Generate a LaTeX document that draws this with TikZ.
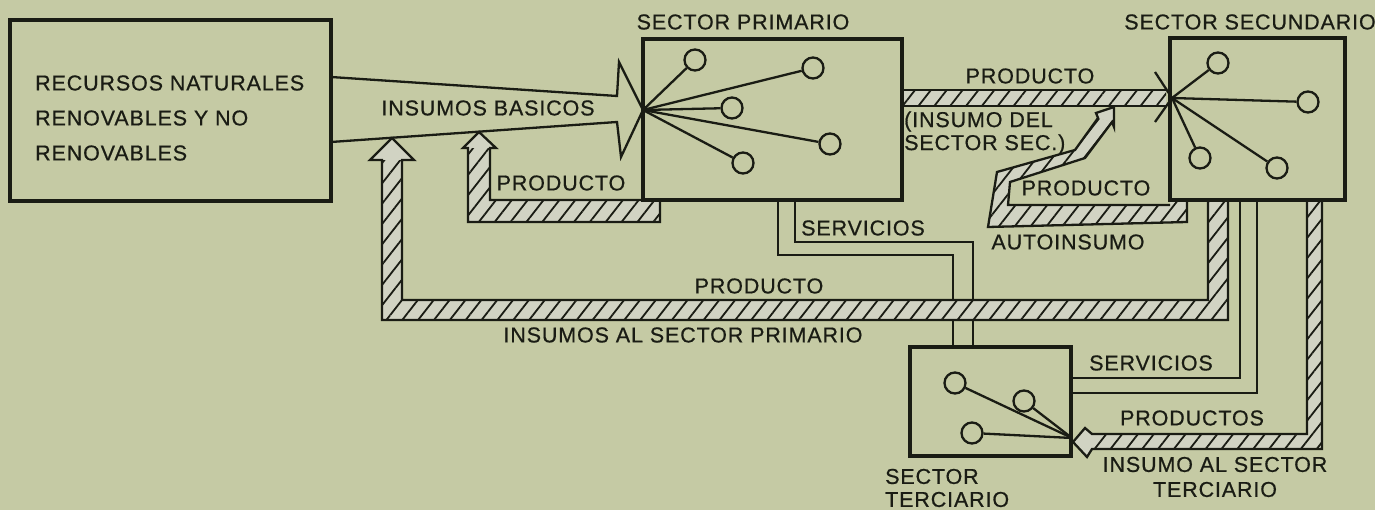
\documentclass[tikz,border=0pt]{standalone}
\usepackage{fontspec}
\setmainfont{Liberation Sans}[LetterSpace=4,FakeBold=0.6]
\usetikzlibrary{patterns.meta}
\definecolor{bgc}{HTML}{C5CAA4}
\definecolor{ink}{HTML}{1A1C14}
\definecolor{bandfill}{HTML}{D1D3C3}
\pgfdeclarelayer{back}
\pgfdeclarelayer{mid}
\pgfsetlayers{back,mid,main}
\tikzset{
  lbl/.style={font=\fontsize{21.5}{24}\selectfont, inner sep=0pt, text=ink},
  sbox/.style={draw=ink, line width=3.4pt, inner sep=0pt},
  ln/.style={draw=ink, line width=2.3pt, line join=miter},
  circ/.style={circle, draw=ink, line width=2.3pt, minimum size=21pt, inner sep=0pt},
  bandarea/.style={fill=bandfill, postaction={pattern={Lines[angle=52,distance=12.5pt,line width=1.8pt]}, pattern color=ink}},
  bandline/.style={draw=ink, line width=2.3pt, line join=miter},
  headfill/.style={fill=bandfill},
}
\begin{document}
\begin{tikzpicture}[x=1pt,y=-1pt]
\useasboundingbox (0,0) rectangle (1375,510);
\begin{pgfonlayer}{back}
  \fill[bgc] (0,0) rectangle (1375,510);
\end{pgfonlayer}

% ---------- boxes ----------
\node[sbox, minimum width=321pt, minimum height=181pt] (rec) at (170.5,110.5) {};
\node[sbox, minimum width=259pt, minimum height=161pt] (sp) at (772.5,119.5) {};
\node[sbox, minimum width=175pt, minimum height=162pt] (ss) at (1257.5,119) {};
\node[sbox, minimum width=161pt, minimum height=109pt] (st) at (990.5,401.5) {};

% ---------- labels ----------
\node[lbl, anchor=west, align=left, font=\fontsize{21.5}{35}\selectfont] (rectxt) at (35,118)
  {RECURSOS NATURALES\\RENOVABLES Y NO\\RENOVABLES};
\node[lbl] (lins) at (488,108) {INSUMOS BASICOS};
\node[lbl] (lsp) at (743,22) {SECTOR PRIMARIO};
\node[lbl] (lss) at (1250,22) {SECTOR SECUNDARIO};
\node[lbl] (lprod1) at (561,183) {PRODUCTO};
\node[lbl] (lserv1) at (863,228) {SERVICIOS};
\node[lbl] (lprod2) at (759,286) {PRODUCTO};
\node[lbl] (linsp) at (683,335) {INSUMOS AL SECTOR PRIMARIO};
\node[lbl] (lprod3) at (1030,76) {PRODUCTO};
\node[lbl, anchor=west, align=left, font=\fontsize{21.5}{23}\selectfont] (linsec) at (904,133) {(INSUMO DEL\\SECTOR SEC.)};
\node[lbl] (lprod4) at (1086,188) {PRODUCTO};
\node[lbl] (lauto) at (1068,242) {AUTOINSUMO};
\node[lbl] (lserv2) at (1151,363) {SERVICIOS};
\node[lbl] (lprods) at (1192,418) {PRODUCTOS};
\node[lbl, align=center, font=\fontsize{21.5}{25}\selectfont] (linst) at (1215,477) {INSUMO AL SECTOR\\TERCIARIO};
\node[lbl, anchor=west, align=left, font=\fontsize{21.5}{23}\selectfont] (lst) at (885,488) {SECTOR\\TERCIARIO};

% ---------- hubs and circles ----------
\coordinate (sphub) at (643,110);
\coordinate (sshub) at (1172,98);
\coordinate (sthub) at (1072,438);

\node[circ] (p1) at (695,60) {};
\node[circ] (p2) at (813,68) {};
\node[circ] (p3) at (732,108) {};
\node[circ] (p4) at (830,144) {};
\node[circ] (p5) at (743,163) {};
\foreach \c in {p1,p2,p3,p4,p5} \draw[ln] (sphub) -- (\c);

\node[circ] (s1) at (1218,63) {};
\node[circ] (s2) at (1308,102) {};
\node[circ] (s3) at (1200,158) {};
\node[circ] (s4) at (1277,168) {};
\foreach \c in {s1,s2,s3,s4} \draw[ln] (sshub) -- (\c);

\node[circ] (t1) at (955,383) {};
\node[circ] (t2) at (1024,401) {};
\node[circ] (t3) at (972,433) {};
\foreach \c in {t1,t2,t3} \draw[ln] (sthub) -- (\c);

% ---------- insumos basicos wedge ----------
\coordinate (w1) at (331,77);
\coordinate (w2) at (331,142);
\draw[ln] (w1) -- (617,96) -- (619,62) -- (sphub) -- (621,157) -- (617,122) -- (w2);

\begin{pgfonlayer}{mid}
% servicios SP -> ST
\draw[ln] (778,200) -- (778,255) -- (953,255) -- (953,347);
\draw[ln] (795,200) -- (795,242) -- (973,242) -- (973,347);
% servicios SS -> ST
\draw[ln] (1240,200) -- (1240,378) -- (1071,378);
\draw[ln] (1257,200) -- (1257,393) -- (1071,393);

% big band: producto / insumos al sector primario
\path[bandarea] (1208,200) -- (1208,300) -- (402,300) -- (402,160) -- (382,160) -- (382,320) -- (1228,320) -- (1228,200) -- cycle;
\path[headfill] (402,160) -- (414,160) -- (392,138) -- (370,160) -- cycle;
\draw[bandline] (1208,200) -- (1208,300) -- (402,300) -- (402,160) -- (414,160) -- (392,138) -- (370,160) -- (382,160) -- (382,320) -- (1228,320) -- (1228,200);

% small band: producto back to insumos
\path[bandarea] (643,200) -- (490,200) -- (490,148) -- (468,148) -- (468,222) -- (660,222) -- (660,200) -- cycle;
\path[headfill] (490,148) -- (496,148) -- (479,132) -- (463,148) -- (468,148) -- cycle;
\draw[bandline] (643,200) -- (490,200) -- (490,148) -- (496,148) -- (479,132) -- (463,148) -- (468,148) -- (468,222) -- (660,222) -- (660,200);

% top band: producto SP -> SS
\path[bandarea] (902,90) rectangle (1166,106);
\draw[bandline] (902,90) -- (1166,90);
\draw[bandline] (902,106) -- (1166,106);

% autoinsumo band
\path[bandarea] (1170,205) -- (1008,205) -- (1010,182) -- (1085,158) -- (1112,122) -- (1098,118) -- (1075,150) -- (997,172) -- (988,227) -- (1187,222) -- (1187,200) -- (1170,200) -- cycle;
\path[headfill] (1112,122) -- (1114,127) -- (1114,107) -- (1096,113) -- (1098,118) -- cycle;
\draw[bandline] (1170,205) -- (1008,205) -- (1010,182) -- (1085,158) -- (1112,122) -- (1114,127) -- (1114,107) -- (1096,113) -- (1098,118) -- (1075,150) -- (997,172) -- (988,227) -- (1187,222) -- (1187,200);

% productos band SS -> ST
\path[bandarea] (1307,200) -- (1307,434) -- (1092,434) -- (1092,449) -- (1322,449) -- (1322,200) -- cycle;
\path[headfill] (1092,434) -- (1085,428) -- (1073,442) -- (1087,457) -- (1092,449) -- cycle;
\draw[bandline] (1307,200) -- (1307,434) -- (1092,434) -- (1085,428) -- (1073,442) -- (1087,457) -- (1092,449) -- (1322,449) -- (1322,200);
\end{pgfonlayer}

% barbs at secondary hub
\draw[ln] (1155,72) -- (sshub) -- (1155,122);
\end{tikzpicture}
\end{document}
